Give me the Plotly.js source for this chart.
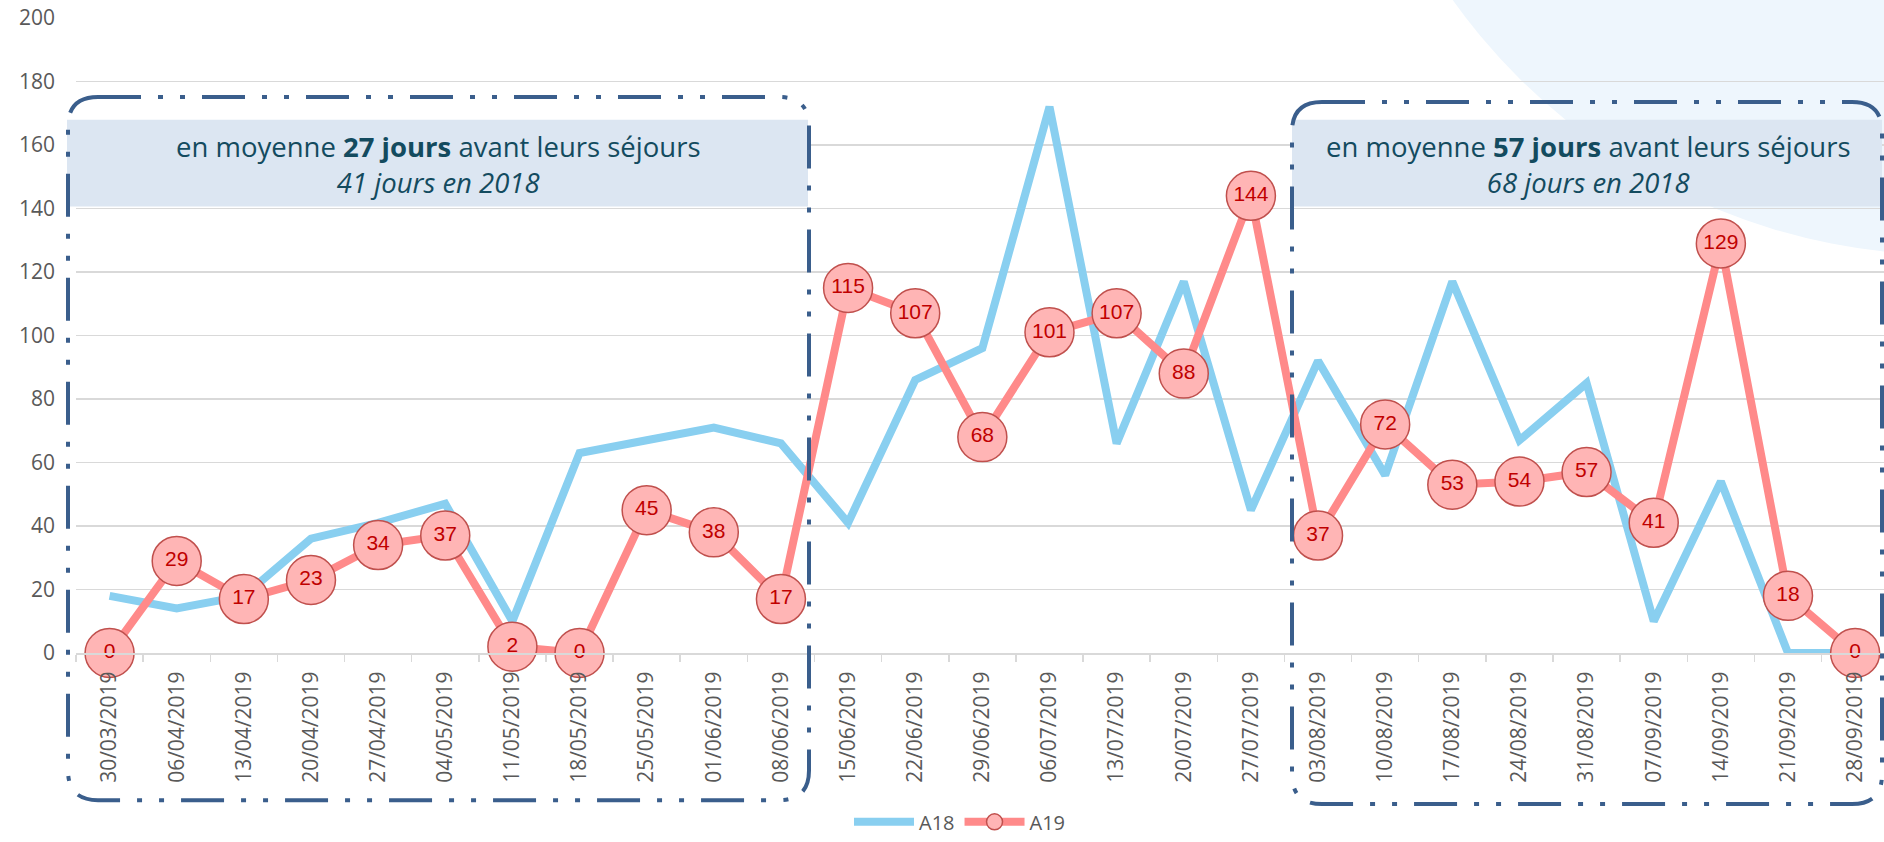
<!DOCTYPE html>
<html><head><meta charset="utf-8">
<script src="https://cdn.plot.ly/plotly-3.0.1.min.js"></script>
<style>html,body{margin:0;padding:0;background:#fff;overflow:hidden}#chart{width:1884px;height:842px}</style>
</head><body><div id="chart"></div>
<script>
// ---- data ----
const dates = ["30/03/2019","06/04/2019","13/04/2019","20/04/2019","27/04/2019","04/05/2019","11/05/2019","18/05/2019","25/05/2019","01/06/2019","08/06/2019","15/06/2019","22/06/2019","29/06/2019","06/07/2019","13/07/2019","20/07/2019","27/07/2019","03/08/2019","10/08/2019","17/08/2019","24/08/2019","31/08/2019","07/09/2019","14/09/2019","21/09/2019","28/09/2019"];
const a18 = [18,14,18,36,41,47,10,63,67,71,66,41,86,96,172,66,117,45,92,56,117,67,85,10,54,0,0];
const a19 = [0,29,17,23,34,37,2,0,45,38,17,115,107,68,101,107,88,144,37,72,53,54,57,41,129,18,0];
const seriesNames = ["A18","A19"];
const yTicks = [0,20,40,60,80,100,120,140,160,180,200];
const note1 = "en moyenne <b>27 jours</b> avant leurs séjours<br><i>41 jours en 2018</i>";
const note2 = "en moyenne <b>57 jours</b> avant leurs séjours<br><i>68 jours en 2018</i>";

// ---- geometry helpers (pixel -> paper) ----
const L = 76, W = 1808, T = 18, H = 643;
const X = p => (p - L) / W;
const Y = p => (T + H - p) / H;

function roundRect(x0, y0, x1, y1, r) {
  const P = (x, y) => X(x) + ',' + Y(y);
  return 'M' + P(x0 + r, y0) + ' L' + P(x1 - r, y0) + ' Q' + P(x1, y0) + ' ' + P(x1, y0 + r) +
    ' L' + P(x1, y1 - r) + ' Q' + P(x1, y1) + ' ' + P(x1 - r, y1) +
    ' L' + P(x0 + r, y1) + ' Q' + P(x0, y1) + ' ' + P(x0, y1 - r) +
    ' L' + P(x0, y0 + r) + ' Q' + P(x0, y0) + ' ' + P(x0 + r, y0) + ' Z';
}

const dashStyle = {color: '#3A5E8C', width: 4, dash: '43px,17px,5px,17px,5px,17px'};
const fillColor = '#DCE6F2';
const textColor = '#134B5F';

const traces = [
  {
    x: dates, y: a18, name: seriesNames[0], type: 'scatter', mode: 'lines',
    line: {color: '#89CFF0', width: 8}, hoverinfo: 'skip', cliponaxis: false
  },
  {
    x: dates, y: a19, name: seriesNames[1], type: 'scatter', mode: 'lines+markers+text',
    line: {color: '#FF8A8A', width: 8},
    marker: {size: 49, color: '#FFB5B5', line: {color: '#C0504D', width: 1.5}},
    text: a19.map(String), textposition: 'middle center',
    textfont: {family: 'Liberation Sans, Arial, sans-serif', size: 21, color: '#C00000'},
    hoverinfo: 'skip', cliponaxis: false
  }
];

const layout = {
  width: 1884, height: 842,
  margin: {l: L, r: 1884 - L - W, t: T, b: 842 - T - H, pad: 0},
  paper_bgcolor: '#ffffff', plot_bgcolor: 'rgba(0,0,0,0)',
  font: {family: 'Open Sans, sans-serif', color: '#595959'},
  showlegend: true,
  legend: {
    orientation: 'h', x: X(849), xanchor: 'left', y: Y(832), yanchor: 'middle',
    font: {family: 'Open Sans, sans-serif', size: 20, color: '#595959'},
    bgcolor: 'rgba(0,0,0,0)', itemwidth: 60, tracegroupgap: 0
  },
  xaxis: {
    type: 'category', range: [-0.5, 26.43], fixedrange: true,
    showgrid: false, zeroline: false,
    showline: true, linecolor: '#D9D9D9', linewidth: 2,
    ticks: 'outside', tickson: 'boundaries', ticklen: 7, tickwidth: 1.5, tickcolor: '#D9D9D9',
    tickangle: -90, ticklabelstandoff: 8,
    tickfont: {family: 'Open Sans, sans-serif', size: 21, color: '#595959'}
  },
  yaxis: {
    range: [0, 200], tickvals: yTicks, fixedrange: true,
    showgrid: true, gridcolor: '#D9D9D9', gridwidth: 1.5,
    zeroline: false, showline: false, ticks: '', ticklabelstandoff: 20,
    tickfont: {family: 'Open Sans, sans-serif', size: 21, color: '#595959'}
  },
  shapes: [
    {type: 'circle', xref: 'paper', yref: 'paper', layer: 'below',
     x0: X(1950 - 608), x1: X(1950 + 608), y0: Y(-350 + 608), y1: Y(-350 - 608),
     fillcolor: '#EEF6FD', line: {width: 0}},
    {type: 'rect', xref: 'paper', yref: 'paper', layer: 'above',
     x0: X(67), x1: X(808), y0: Y(121), y1: Y(209), fillcolor: fillColor, line: {width: 0}},
    {type: 'rect', xref: 'paper', yref: 'paper', layer: 'above',
     x0: X(1292), x1: X(1882), y0: Y(121), y1: Y(209), fillcolor: fillColor, line: {width: 0}},
    {type: 'path', xref: 'paper', yref: 'paper', layer: 'above',
     path: roundRect(68, 98, 809, 810, 30), line: dashStyle},
    {type: 'path', xref: 'paper', yref: 'paper', layer: 'above',
     path: roundRect(1292, 103, 1882, 814, 30), line: dashStyle}
  ],
  annotations: [
    {xref: 'paper', yref: 'paper', x: X(438), y: Y(166), text: note1, showarrow: false,
     xanchor: 'center', yanchor: 'middle', align: 'center',
     font: {family: 'Open Sans, sans-serif', size: 27.5, color: textColor}},
    {xref: 'paper', yref: 'paper', x: X(1588), y: Y(166), text: note2, showarrow: false,
     xanchor: 'center', yanchor: 'middle', align: 'center',
     font: {family: 'Open Sans, sans-serif', size: 27.5, color: textColor}}
  ]
};

Plotly.newPlot('chart', traces, layout, {displayModeBar: false, staticPlot: true});
</script>
</body></html>
